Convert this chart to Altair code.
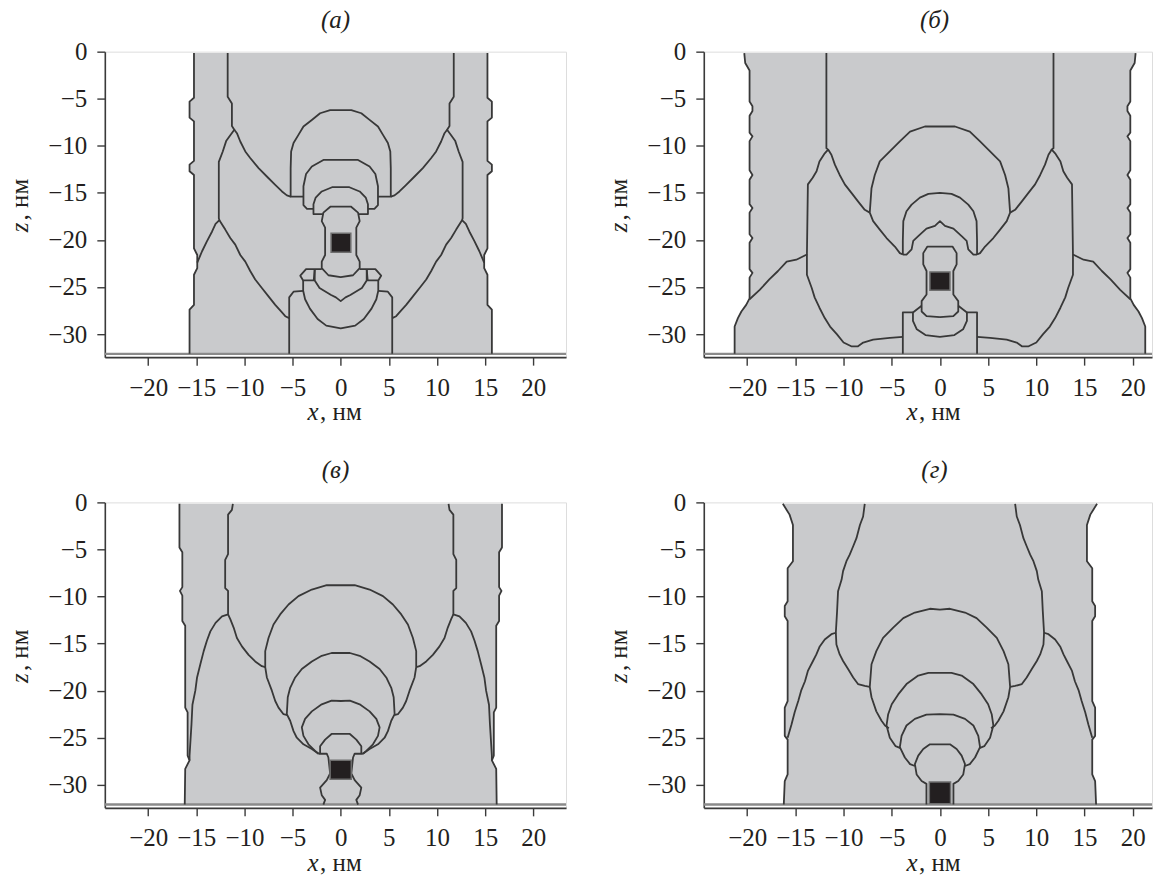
import altair as alt
import pandas as pd

FONT = "Liberation Serif"
X_TICKS = [-20, -15, -10, -5, 0, 5, 10, 15, 20]
Z_TICKS = [0, -5, -10, -15, -20, -25, -30]
PANEL_TITLES = ["(а)", "(б)", "(в)", "(г)"]
X_MIN = -24.5
X_MAX_LEFT = 23.4
X_MAX_RIGHT = 22.0
Z_MIN = -32.45
Z_SUB = -32.1

# ---- panel (а): right halves of the contours (the picture is mirror-symmetric) ----
A_OUTER = [(15.24, -0.15), (15.24, -4.9), (15.7, -5.3), (15.7, -7.0), (15.24, -7.4), (15.24, -11.6),
           (15.7, -12.0), (15.7, -12.7), (15.24, -13.1), (15.24, -20.9), (14.9, -21.6), (14.9, -23.0),
           (15.24, -23.7), (15.24, -26.9), (15.7, -27.4), (15.7, -32.1)]
A_SIDES = [
    [(11.74, -0.15), (11.74, -4.8), (11.3, -5.5), (11.3, -7.9), (11.05, -8.3), (11.45, -8.85), (11.9, -9.5),
     (12.25, -10.6), (12.66, -11.7), (12.66, -17.7), (12.6, -17.9), (13.0, -18.3), (13.36, -19.1),
     (13.9, -20.15), (14.4, -21.2), (14.9, -22.4)],
    [(11.05, -8.3), (10.78, -8.66), (10.43, -9.54), (9.91, -10.6), (9.4, -11.3), (8.53, -12.37), (7.67, -13.26),
     (6.8, -14.14), (6.1, -14.85), (5.59, -15.27), (5.2, -15.4)],
    [(12.6, -17.9), (11.99, -18.9), (11.47, -19.8), (10.95, -20.5), (10.43, -21.6), (9.91, -22.3), (9.4, -23.3),
     (8.88, -24.2), (8.19, -25.1), (7.5, -26.0), (6.8, -26.9), (6.1, -27.7), (5.76, -28.1), (5.35, -28.3)],
    [(5.35, -32.1), (5.35, -26.1), (4.9, -25.5), (3.9, -25.4)],
    [(1.97, -23.1), (3.6, -23.1), (4.2, -23.8), (3.9, -24.3), (2.8, -24.3), (2.7, -23.1)],
]
A_ARCS = [
    [(0, -6.2), (1.1, -6.2), (2.14, -6.54), (3.0, -7.25), (3.87, -7.95), (4.39, -8.84), (4.9, -9.7),
     (5.15, -10.6), (5.2, -12.4), (5.2, -15.4), (3.87, -15.4)],
    [(0, -11.5), (1.8, -11.5), (3.0, -12.2), (3.6, -13.0), (3.87, -14.3), (3.87, -16.3), (3.5, -16.7), (2.83, -16.7)],
    [(0, -14.4), (0.9, -14.4), (1.97, -14.85), (2.6, -15.5), (2.83, -16.2), (2.83, -17.25), (1.85, -17.25)],
    [(0, -16.45), (1.05, -16.45), (1.8, -17.1), (1.97, -18.0), (1.62, -18.7), (1.62, -21.6), (1.97, -22.3),
     (1.97, -23.0), (1.28, -23.75), (0, -23.95)],
    [(0, -26.5), (0.5, -26.1), (1.0, -25.85), (2.2, -25.1), (2.7, -24.3), (2.7, -23.1)],
    [(0, -29.4), (1.5, -29.1), (2.4, -28.4), (3.2, -27.3), (3.7, -26.3), (3.9, -25.4), (3.9, -24.3)],
]
A_SQUARE = (-1.0, 1.05, -19.3, -21.3)

# ---- panel (б) ----
B_OUTER = [(20.3, -0.15), (20.2, -1.2), (19.75, -2.0), (19.75, -5.3), (19.45, -5.8), (19.45, -6.3), (19.75, -6.8),
           (19.75, -8.6), (19.45, -9.0), (19.75, -9.5), (19.75, -12.6), (19.45, -13.1), (19.75, -13.6),
           (19.75, -16.2), (19.45, -16.6), (19.75, -17.1), (19.75, -19.4), (19.45, -19.8), (19.75, -20.3),
           (19.75, -23.1), (19.45, -23.5), (19.75, -24.0), (19.75, -26.2), (20.1, -26.9), (20.6, -27.6),
           (20.96, -28.3), (21.3, -29.2), (21.3, -32.1)]
B_SIDES = [
    [(11.78, -0.15), (11.78, -10.25), (11.6, -10.4), (11.95, -10.8), (12.5, -11.66), (12.8, -12.7), (13.2, -13.4),
     (13.7, -14.1), (13.8, -21.55), (14.9, -22.1), (15.9, -22.3), (16.8, -23.3), (17.7, -24.2), (18.7, -25.3),
     (19.75, -26.3)],
    [(11.6, -10.4), (11.26, -10.95), (10.9, -12.0), (10.4, -13.1), (9.87, -14.1), (9.18, -15.0), (8.5, -15.9),
     (7.8, -16.8), (7.28, -17.1)],
    [(13.8, -21.55), (13.8, -23.7), (13.3, -25.1), (13.0, -26.1), (12.5, -27.2), (11.95, -28.3), (11.4, -29.2),
     (10.7, -30.0), (10.0, -30.9), (9.2, -31.3), (8.5, -31.3), (7.96, -30.9), (6.93, -30.6), (5.2, -30.4),
     (3.85, -30.3)],
    [(3.85, -32.1), (3.85, -27.7), (2.8, -27.7)],
]
B_ARCS = [
    [(0, -7.95), (1.56, -7.95), (3.1, -8.5), (4.16, -9.54), (5.2, -10.6), (6.24, -11.66), (6.76, -13.1),
     (7.1, -14.5), (7.28, -17.1), (6.93, -18.0), (6.24, -18.9), (5.54, -19.8), (4.68, -20.7), (4.16, -21.4),
     (3.85, -21.55)],
    [(0, -15.0), (1.2, -15.1), (2.08, -15.5), (2.94, -16.25), (3.47, -16.96), (3.8, -18.0), (3.85, -20.1),
     (3.85, -21.55)],
    [(0, -18.0), (0.52, -18.5), (1.4, -18.8), (2.25, -19.6), (2.77, -20.1), (2.94, -21.0), (3.47, -21.55),
     (3.85, -21.55)],
    [(0, -20.7), (1.3, -20.7), (1.73, -21.4), (1.73, -22.6), (1.39, -23.3), (1.39, -25.8), (1.9, -26.5),
     (1.9, -27.6), (1.39, -28.1), (0, -28.2)],
    [(0, -30.3), (1.5, -30.1), (2.4, -29.5), (2.8, -28.6), (2.8, -27.7), (1.9, -27.0)],
]
B_SQUARE = (-1.04, 1.04, -23.4, -25.35)

# ---- panel (в) ----
C_OUTER = [(16.75, -0.15), (16.75, -4.8), (16.45, -5.3), (16.45, -9.0), (16.7, -9.4), (16.45, -9.9),
           (16.45, -12.6), (16.15, -13.1), (16.15, -21.8), (15.9, -22.3), (15.9, -26.9), (15.7, -27.4),
           (16.15, -28.3), (16.2, -32.1)]
C_SIDES = [
    [(11.2, -0.15), (11.3, -0.8), (11.7, -1.3), (11.7, -5.5), (12.0, -6.1), (12.0, -9.1), (11.7, -9.4),
     (11.7, -11.9), (12.33, -12.1), (13.0, -12.8), (13.54, -13.7), (13.9, -14.7), (14.23, -15.8),
     (14.58, -17.2), (14.92, -18.6), (15.1, -20.0), (15.4, -21.5), (15.5, -23.6), (15.7, -26.9), (15.7, -27.4)],
    [(11.7, -11.9), (11.47, -12.4), (11.12, -13.3), (10.78, -14.4), (10.26, -15.3), (9.57, -16.2),
     (8.88, -16.9), (8.19, -17.4), (7.84, -17.5)],
    [(2.3, -26.7), (1.45, -26.7), (1.28, -27.1), (1.1, -28.8), (1.45, -29.5), (2.14, -30.3), (1.97, -31.1),
     (1.62, -31.6), (1.8, -32.1)],
]
C_ARCS = [
    [(0, -8.8), (1.45, -8.8), (3.0, -9.26), (4.39, -9.96), (5.42, -10.85), (6.29, -11.9), (6.98, -12.97),
     (7.5, -14.4), (7.84, -15.8), (7.84, -17.5), (7.67, -18.6), (7.15, -20.0), (6.8, -21.1), (6.46, -21.8),
     (5.94, -22.5), (5.55, -22.6)],
    [(0, -16.0), (0.95, -16.0), (1.97, -16.3), (3.0, -16.9), (4.04, -17.7), (4.73, -18.6), (5.25, -19.7),
     (5.5, -20.7), (5.6, -22.5), (5.25, -23.2), (4.9, -24.3), (4.56, -25.0), (3.87, -25.7), (3.0, -26.2),
     (2.3, -26.7)],
    [(0, -21.1), (0.95, -21.05), (1.97, -21.45), (3.0, -22.2), (3.7, -23.0), (4.04, -23.9), (3.87, -24.8),
     (3.35, -25.7), (2.66, -26.4), (2.3, -26.7)],
    [(0, -24.6), (0.95, -24.6), (1.62, -25.2), (2.14, -25.9), (2.14, -26.7)],
]
C_SQUARE = (-1.1, 1.1, -27.4, -29.4)

# ---- panel (г) ----
D_OUTER = [(16.3, -0.15), (15.9, -0.8), (15.6, -1.3), (15.25, -2.4), (15.25, -6.25), (15.8, -7.0),
           (15.8, -10.5), (16.1, -11.0), (16.1, -12.1), (15.8, -12.6), (15.8, -21.1), (16.1, -21.8),
           (16.1, -24.8), (15.8, -25.2), (15.8, -28.9), (16.1, -29.6), (16.2, -32.1)]
D_SIDES = [
    [(7.8, -0.15), (7.97, -1.5), (8.3, -2.4), (8.66, -3.8), (9.0, -4.66), (9.36, -5.55), (9.7, -6.25),
     (10.05, -7.3), (10.2, -8.2), (10.57, -9.43), (10.67, -11.55), (10.8, -13.85), (11.26, -14.0),
     (11.95, -14.56), (12.47, -15.3), (12.82, -16.15), (13.17, -16.85), (13.7, -17.9), (14.0, -19.0),
     (14.4, -20.0), (14.7, -21.1), (15.07, -22.3), (15.4, -23.6), (15.8, -25.0)],
    [(10.8, -13.85), (10.74, -15.1), (10.4, -16.15), (10.05, -16.85), (9.53, -17.7), (9.0, -18.6),
     (8.5, -19.3), (7.8, -19.5), (7.28, -19.6)],
]
D_ARCS = [
    [(0, -11.4), (1.04, -11.3), (2.6, -11.7), (3.8, -12.3), (4.85, -13.3), (5.9, -14.4), (6.6, -15.8),
     (7.1, -17.2), (7.28, -19.6), (7.1, -20.7), (6.6, -22.2), (6.06, -23.2), (5.7, -23.7), (5.3, -24.0)],
    [(0, -18.1), (1.2, -18.1), (2.25, -18.4), (3.47, -19.3), (4.33, -20.4), (5.0, -21.45), (5.37, -22.5),
     (5.54, -23.7), (5.2, -25.0), (4.6, -25.9), (4.1, -26.1)],
    [(0, -22.5), (1.4, -22.55), (2.6, -23.0), (3.47, -23.7), (3.98, -24.8), (4.16, -26.0), (3.64, -27.1),
     (3.1, -27.8), (2.6, -28.0)],
    [(0, -25.7), (1.04, -25.7), (1.73, -26.2), (2.25, -26.9), (2.6, -27.8), (2.42, -28.9), (1.9, -29.6),
     (1.4, -29.9), (1.4, -32.1)],
]
D_SQUARE = (-1.1, 1.1, -29.7, -32.0)

PANELS = [
    (A_OUTER, A_SIDES, A_ARCS, A_SQUARE, X_MAX_LEFT),
    (B_OUTER, B_SIDES, B_ARCS, B_SQUARE, X_MAX_RIGHT),
    (C_OUTER, C_SIDES, C_ARCS, C_SQUARE, X_MAX_LEFT),
    (D_OUTER, D_SIDES, D_ARCS, D_SQUARE, X_MAX_RIGHT),
]

FILL = "#c9cacc"
LINE = "#383838"
AX = "#3a3a3a"
TXT = "#231f20"
PX_PER_NM = 9.65
HEIGHT = 306
FS = 25


def build_lines(outer, sides, arcs):
    rows = []
    lid = 0

    def add(pts):
        nonlocal lid
        for i, (x, z) in enumerate(pts):
            rows.append({"id": lid, "i": i, "x": x, "z": z})
        lid += 1

    for curve in [outer] + sides:
        add(curve)
        add([(-x, z) for x, z in curve])
    for arc in arcs:
        add([(-x, z) for x, z in reversed(arc)] + list(arc))
    return pd.DataFrame(rows)


def text_layer(s, px, py, style="normal", align="left", angle=0, baseline="alphabetic"):
    return alt.Chart(pd.DataFrame({"t": [s]})).mark_text(
        text=s, font=FONT, fontSize=FS, fontStyle=style, align=align, baseline=baseline,
        angle=angle, color=TXT
    ).encode(x=alt.value(px), y=alt.value(py))


def make_panel(outer, sides, arcs, square, xmax, title):
    width = round((xmax - X_MIN) * PX_PER_NM)
    xs = alt.Scale(domain=[X_MIN, xmax], nice=False, zero=False)
    ys = alt.Scale(domain=[Z_MIN, 0], nice=False, zero=False)
    common = dict(grid=False, title=None, format="d", labelFont=FONT, labelFontSize=FS, labelColor=TXT,
                  tickColor=AX, tickWidth=1.4, tickSize=8, domainColor=AX, domainWidth=1.6,
                  labelFlush=False, labelOverlap=False)
    xax = alt.Axis(values=X_TICKS, labelPadding=10, **common)
    yax = alt.Axis(values=Z_TICKS, labelPadding=10, **common)

    fill_df = pd.DataFrame({"z": [z for _, z in outer], "xl": [-x for x, _ in outer],
                            "xr": [x for x, _ in outer]})
    fill = alt.Chart(fill_df).mark_area(orient="horizontal", color=FILL, opacity=1).encode(
        y=alt.Y("z:Q", scale=ys, axis=yax), x=alt.X("xl:Q", scale=xs, axis=xax, stack=None), x2="xr:Q")

    sub = alt.Chart(pd.DataFrame({"x0": [X_MIN], "x1": [xmax], "z": [Z_SUB]})).mark_rule(
        color="#8a8a8a", strokeWidth=2.4).encode(
        x=alt.X("x0:Q", scale=xs, axis=xax), x2="x1:Q", y=alt.Y("z:Q", scale=ys, axis=yax))

    lines = alt.Chart(build_lines(outer, sides, arcs)).mark_line(
        color=LINE, strokeWidth=1.8, strokeJoin="round").encode(
        x=alt.X("x:Q", scale=xs, axis=xax), y=alt.Y("z:Q", scale=ys, axis=yax),
        detail="id:N", order="i:Q")

    sq = alt.Chart(pd.DataFrame({"x0": [square[0]], "x1": [square[1]], "z0": [square[2]], "z1": [square[3]]})).mark_rect(
        color="#231f20", stroke="#6e6e6e", strokeWidth=1.5).encode(
        x=alt.X("x0:Q", scale=xs, axis=xax), x2="x1:Q", y=alt.Y("z0:Q", scale=ys, axis=yax), y2="z1:Q")

    cx = (X_MAX_LEFT - X_MIN) * PX_PER_NM / 2
    cy = HEIGHT / 2
    texts = [
        text_layer(title, cx, -24, style="italic", align="center"),
        text_layer("x", cx - 28, 369, style="italic"),
        text_layer(", нм", cx - 15.5, 369),
        text_layer("z", -77, cy + 28, style="italic", angle=270),
        text_layer(", нм", -77, cy + 16, angle=270),
    ]
    return alt.layer(fill, sub, lines, sq, *texts).properties(width=width, height=HEIGHT)


charts = [make_panel(o, s, a, q, xm, t) for (o, s, a, q, xm), t in zip(PANELS, PANEL_TITLES)]

chart = alt.concat(*charts, columns=2, spacing={"row": 145.5, "column": 138}, bounds="flush").properties(
    padding={"left": 7, "top": 6, "right": 0, "bottom": 0}
).configure_view(stroke=None).configure(background="white")

chart.save("out.html", embed_options={"renderer": "svg", "actions": False})
